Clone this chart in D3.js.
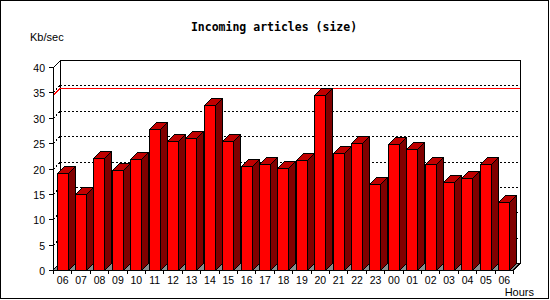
<!DOCTYPE html>
<html>
<head>
<meta charset="utf-8">
<script src="https://cdn.jsdelivr.net/npm/d3@7"></script>
<style>
  body { margin: 0; background: #fff; }
  svg { display: block; }
</style>
</head>
<body>
<div id="chart"></div>
<script>
// heures (de 06 à 06 le lendemain)
const hours = ["06","07","08","09","10","11","12","13","14","15","16","17","18","19","20","21","22","23","00","01","02","03","04","05","06 "];
// Kb/sec par heure
const kbPerSec = [19.1, 14.9, 22.0, 19.7, 21.8, 27.7, 25.4, 26.0, 32.5, 25.4, 20.5, 20.85, 20.05, 21.6, 34.46, 23.0, 25.1, 17.0, 24.9, 23.9, 20.85, 17.3, 18.1, 20.85, 13.35];
const yTicks = [0, 5, 10, 15, 20, 25, 30, 35, 40];

const width = 550, height = 300;
const depth = 7;
const left = 53, right = 513, floorY = 270;
const sans = '"Liberation Sans", Arial, sans-serif';

const svg = d3.select('#chart').append('svg')
  .attr('width', width)
  .attr('height', height)
  .attr('viewBox', [0, 0, width, height]);

// cadre
svg.append('rect')
  .attr('x', 0.5).attr('y', 0.5)
  .attr('width', 548).attr('height', 298)
  .attr('fill', '#fff').attr('stroke', '#000')
  .attr('shape-rendering', 'crispEdges');

const x = d3.scaleBand().domain(d3.range(hours.length)).range([left, right]);
const y = d3.scaleLinear().domain([0, 40]).range([floorY, 67]);
const bw = x.bandwidth();
const fw = bw * 0.6;

const g = svg.append('g').attr('shape-rendering', 'crispEdges');

// mur du fond
const topY = y(40) - depth;
g.append('rect')
  .attr('x', left + depth + 0.5).attr('y', Math.round(topY) + 0.5)
  .attr('width', right - left).attr('height', Math.round(floorY - depth - topY))
  .attr('fill', '#fff').attr('stroke', '#000');

// sol
g.append('polygon')
  .attr('points', [[left, floorY], [left + depth, floorY - depth], [right + depth, floorY - depth], [right, floorY]].join(' '))
  .attr('fill', '#8c8c8c').attr('stroke', '#000');

// grille pointillée
const grid = yTicks.filter(t => t > 0 && t < 40);
grid.forEach(t => {
  const yy = Math.round(y(t)) + 0.5;
  g.append('line')
    .attr('x1', left + depth).attr('x2', right + depth)
    .attr('y1', yy - depth).attr('y2', yy - depth)
    .attr('stroke', '#000').attr('stroke-dasharray', '2,2');
  g.append('line')
    .attr('x1', left).attr('x2', left + depth)
    .attr('y1', yy).attr('y2', yy - depth)
    .attr('stroke', '#000').attr('stroke-dasharray', '2,2');
});

// ligne du maximum
const maxV = d3.max(kbPerSec);
const my = Math.round(y(maxV)) + 0.5;
g.append('line')
  .attr('x1', left + depth).attr('x2', right + depth)
  .attr('y1', my - depth).attr('y2', my - depth)
  .attr('stroke', '#f00');
g.append('line')
  .attr('x1', left).attr('x2', left + depth)
  .attr('y1', my).attr('y2', my - depth)
  .attr('stroke', '#f00');

// barres 3D
kbPerSec.forEach((v, i) => {
  const x0 = Math.round(x(i) + (bw - fw) / 2) + 0.5;
  const x1 = x0 + Math.round(fw);
  const yv = Math.round(y(v)) + 0.5;
  const fb = floorY + 0.5;
  g.append('polygon')
    .attr('points', [[x0, yv], [x0 + depth, yv - depth], [x1 + depth, yv - depth], [x1, yv]].join(' '))
    .attr('fill', '#c00000').attr('stroke', '#000');
  g.append('polygon')
    .attr('points', [[x1, yv], [x1 + depth, yv - depth], [x1 + depth, fb - depth], [x1, fb]].join(' '))
    .attr('fill', '#800000').attr('stroke', '#000');
  g.append('rect')
    .attr('x', x0).attr('y', yv)
    .attr('width', x1 - x0).attr('height', fb - yv)
    .attr('fill', '#f00').attr('stroke', '#000');
});

// axe Y
g.append('line')
  .attr('x1', left + 0.5).attr('x2', left + 0.5)
  .attr('y1', floorY + 4).attr('y2', Math.round(y(40)))
  .attr('stroke', '#000');
g.append('line')
  .attr('x1', left + 0.5).attr('x2', left + depth + 0.5)
  .attr('y1', Math.round(y(40)) + 0.5).attr('y2', Math.round(topY) + 0.5)
  .attr('stroke', '#000');
yTicks.forEach(t => {
  const yy = Math.round(y(t)) + 0.5;
  g.append('line')
    .attr('x1', left - 4).attr('x2', left + 1)
    .attr('y1', yy).attr('y2', yy)
    .attr('stroke', '#000');
  svg.append('text')
    .attr('x', left - 8).attr('y', yy + 4)
    .attr('text-anchor', 'end')
    .style('font-family', sans)
    .style('font-size', '10.5px')
    .text(t);
});

// axe X
g.append('line')
  .attr('x1', left).attr('x2', right + 1)
  .attr('y1', floorY + 0.5).attr('y2', floorY + 0.5)
  .attr('stroke', '#000');
g.append('line')
  .attr('x1', right + 0.5).attr('x2', right + depth + 0.5)
  .attr('y1', floorY + 0.5).attr('y2', floorY - depth + 0.5)
  .attr('stroke', '#000');
d3.range(hours.length + 1).forEach(i => {
  const xx = Math.round(left + i * bw) + 0.5;
  g.append('line')
    .attr('x1', xx).attr('x2', xx)
    .attr('y1', floorY).attr('y2', floorY + 4)
    .attr('stroke', '#000');
});
hours.forEach((h, i) => {
  svg.append('text')
    .attr('x', x(i) + bw / 2 + 0.5).attr('y', 284)
    .attr('text-anchor', 'middle')
    .style('font-family', sans)
    .style('font-size', '10.5px')
    .text(h.trim());
});

// titres
svg.append('text')
  .attr('x', 274).attr('y', 31)
  .attr('text-anchor', 'middle')
  .style('font-family', '"DejaVu Sans Mono", monospace')
  .style('font-weight', 'bold')
  .style('font-size', '11.5px')
  .text('Incoming articles (size)');
svg.append('text')
  .attr('x', 30).attr('y', 41)
  .style('font-family', sans)
  .style('font-size', '11px')
  .text('Kb/sec');
svg.append('text')
  .attr('x', 534).attr('y', 296)
  .attr('text-anchor', 'end')
  .style('font-family', sans)
  .style('font-size', '11px')
  .text('Hours');
</script>
</body>
</html>
